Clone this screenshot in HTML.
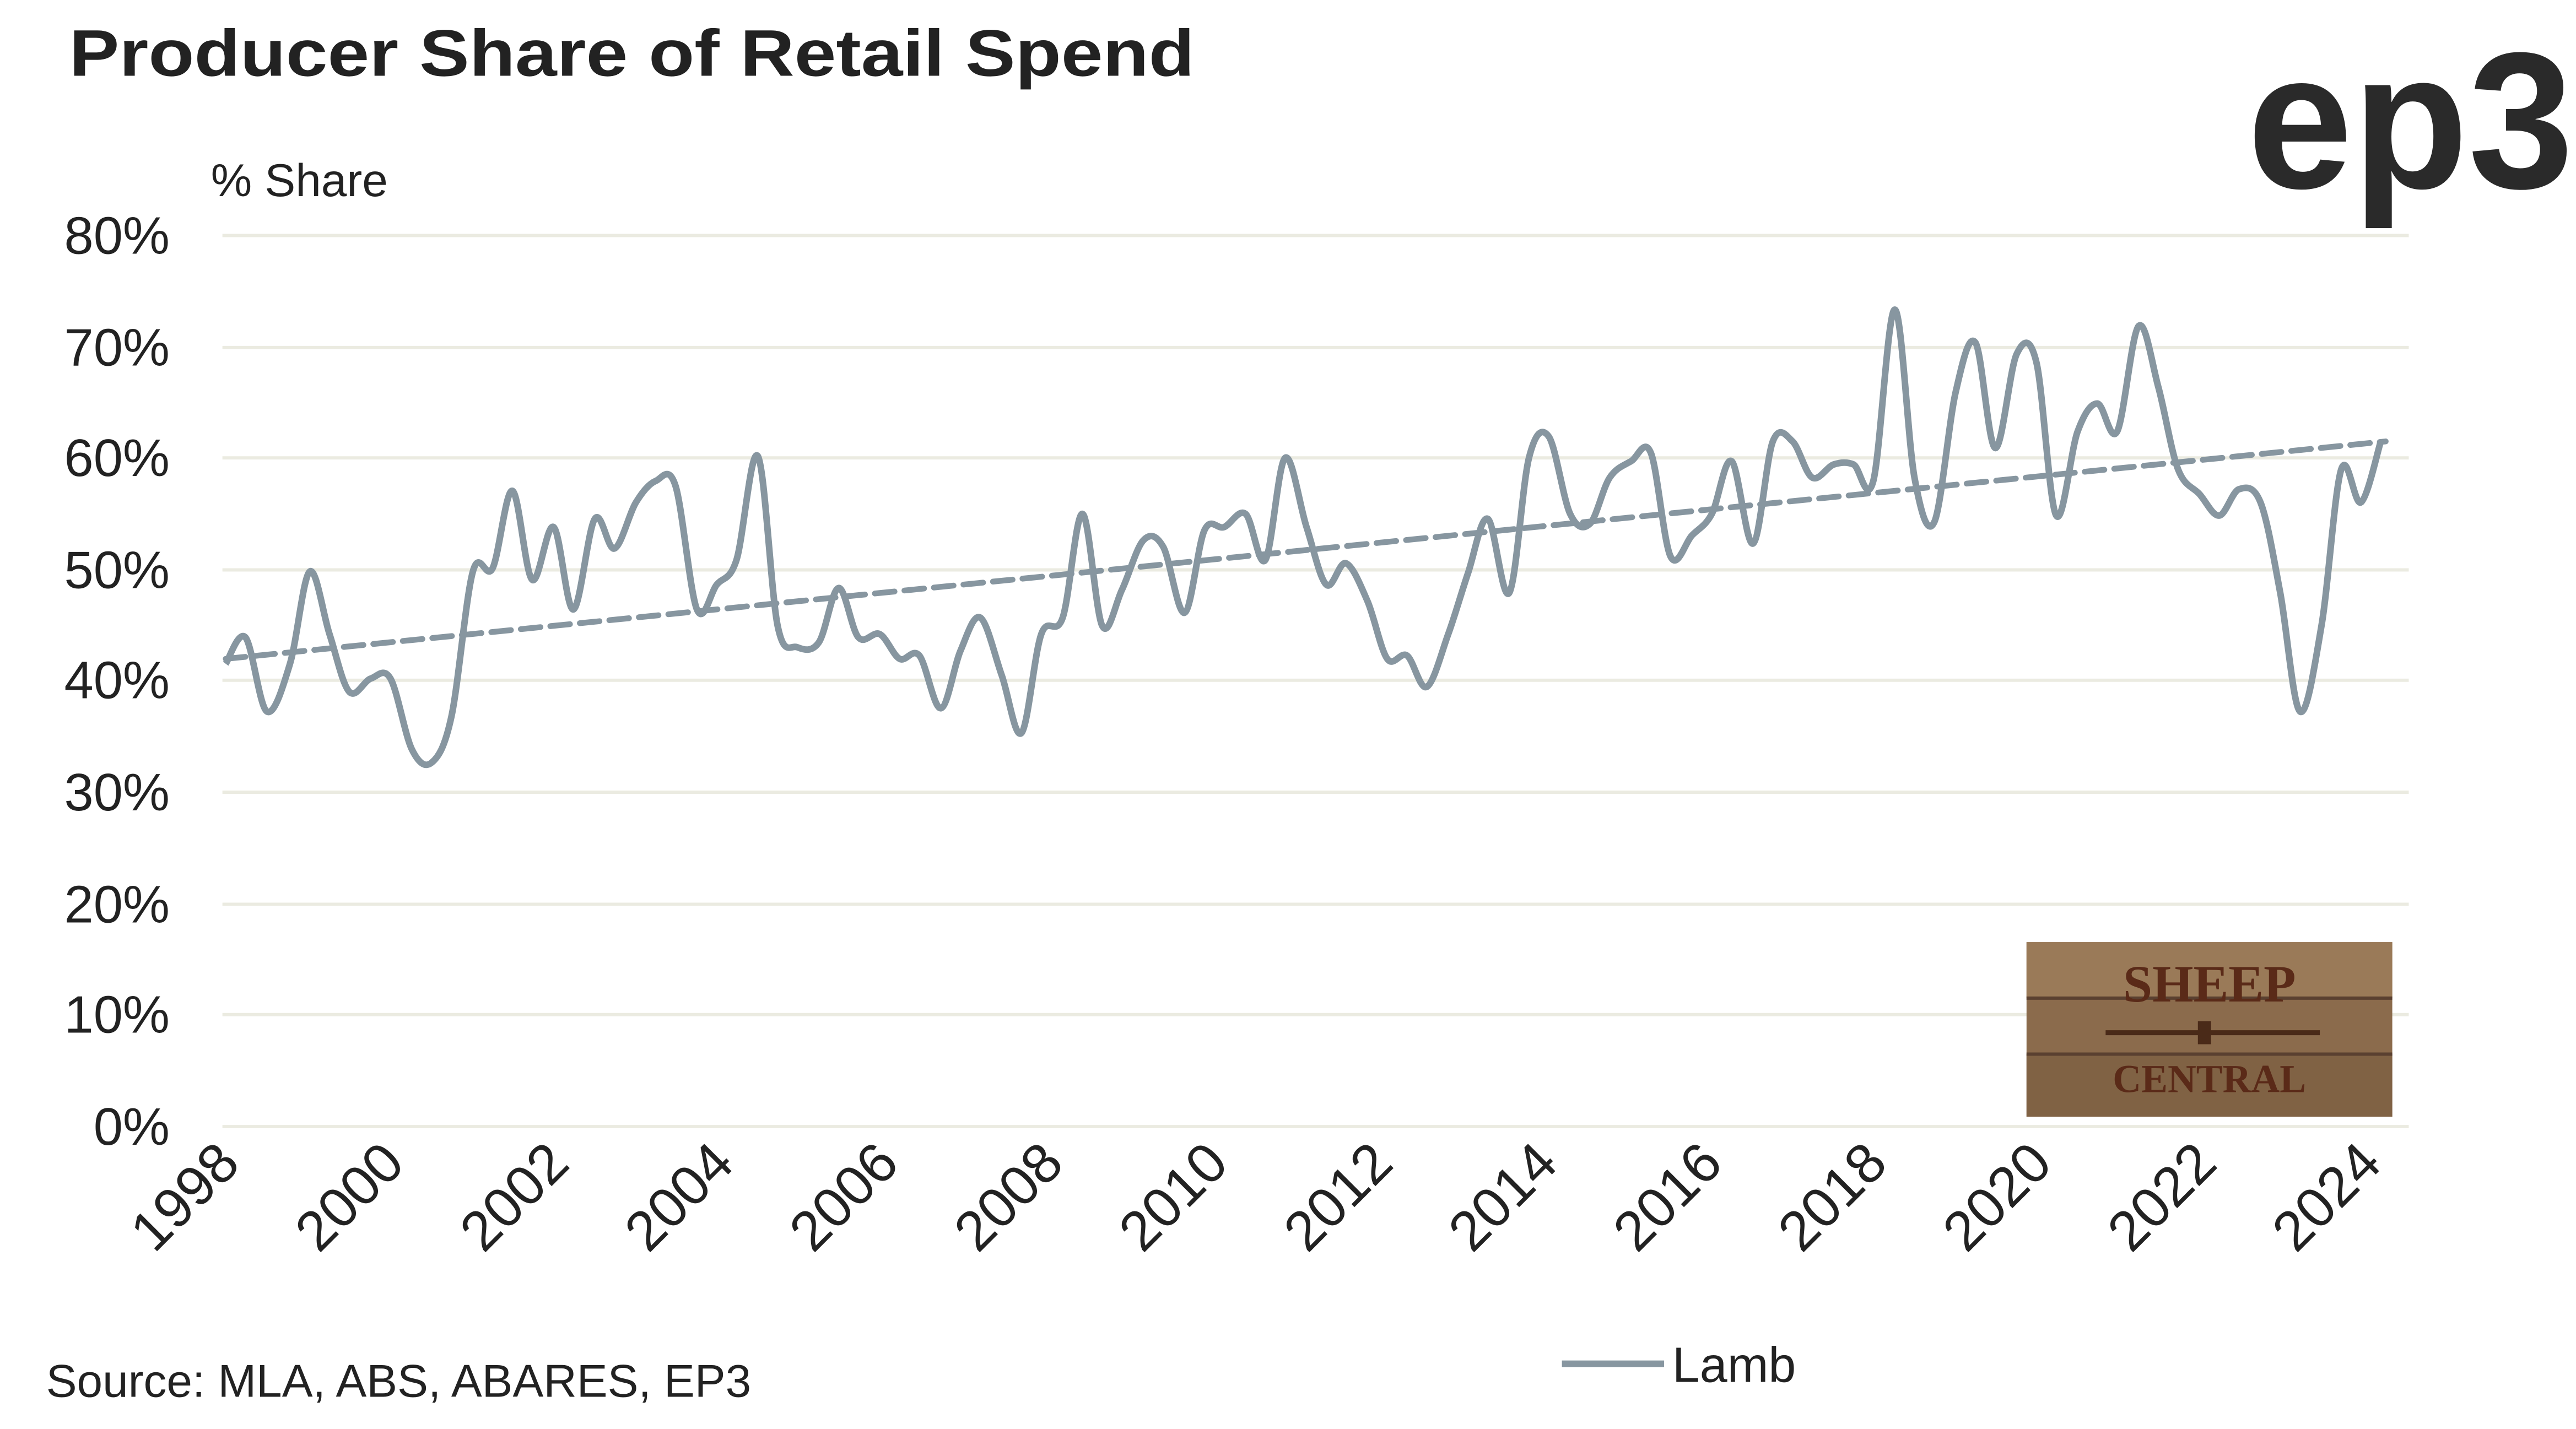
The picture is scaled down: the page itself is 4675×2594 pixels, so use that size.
<!DOCTYPE html>
<html><head><meta charset="utf-8">
<style>
html,body{margin:0;padding:0;background:#fff;}
svg{display:block;}
</style></head>
<body>
<svg id="s" width="4675" height="2594" viewBox="0 0 1563.5 867.6" preserveAspectRatio="none" xmlns="http://www.w3.org/2000/svg">
<rect width="1563.5" height="867.6" fill="#fff"/>
<text x="42" y="46" font-family="Liberation Sans, sans-serif" font-weight="bold" font-size="40" fill="#222" textLength="683" lengthAdjust="spacingAndGlyphs">Producer Share of Retail Spend</text>
<text x="1364" y="114" font-family="Liberation Sans, sans-serif" font-weight="bold" font-size="118" fill="#2a2a2a" textLength="198" lengthAdjust="spacingAndGlyphs">ep3</text>
<text x="128" y="119" font-family="Liberation Sans, sans-serif" font-size="28" fill="#222">% Share</text>
<g stroke="#ebebe1" stroke-width="2">
<line x1="135" x2="1462" y1="143" y2="143"/><line x1="135" x2="1462" y1="211" y2="211"/>
<line x1="135" x2="1462" y1="278" y2="278"/><line x1="135" x2="1462" y1="346" y2="346"/>
<line x1="135" x2="1462" y1="413" y2="413"/><line x1="135" x2="1462" y1="481" y2="481"/>
<line x1="135" x2="1462" y1="549" y2="549"/><line x1="135" x2="1462" y1="616" y2="616"/>
<line x1="135" x2="1462" y1="684" y2="684"/>
</g>
<g font-family="Liberation Sans, sans-serif" font-size="32" fill="#222" text-anchor="end">
<text x="103" y="154">80%</text><text x="103" y="222">70%</text><text x="103" y="289">60%</text>
<text x="103" y="357">50%</text><text x="103" y="424">40%</text><text x="103" y="492">30%</text>
<text x="103" y="560">20%</text><text x="103" y="627">10%</text><text x="103" y="695">0%</text>
</g>
<g id="xl" font-family="Liberation Sans, sans-serif" font-size="34" fill="#222" text-anchor="end"></g>
<g>
<rect x="1230" y="572" width="222" height="106" fill="#8b6b4c"/>
<rect x="1230" y="572" width="222" height="34" fill="#9a7a58"/>
<rect x="1230" y="640" width="222" height="38" fill="#806244"/>
<line x1="1230" y1="606" x2="1452" y2="606" stroke="#5a4030" stroke-width="2"/>
<line x1="1230" y1="640" x2="1452" y2="640" stroke="#5a4030" stroke-width="2"/>
<text x="1341" y="608" text-anchor="middle" font-family="Liberation Serif, serif" font-weight="bold" font-size="32" fill="#5a2a18">SHEEP</text>
<line x1="1278" y1="627" x2="1408" y2="627" stroke="#4a2a18" stroke-width="3"/>
<rect x="1334" y="620" width="8" height="14" fill="#4a2a18"/>
<text x="1341" y="663" text-anchor="middle" font-family="Liberation Serif, serif" font-weight="bold" font-size="24" fill="#5a2a18">CENTRAL</text>
</g>
<line x1="137" y1="400" x2="1448" y2="268" stroke="#8796a0" stroke-width="3.5" stroke-dasharray="12,6" stroke-linecap="round"/>
<path id="p" fill="none" stroke="#8796a0" stroke-width="4" stroke-linejoin="round"/>
<line x1="948" y1="828" x2="1010" y2="828" stroke="#8796a0" stroke-width="4"/>
<text x="1015" y="839" font-family="Liberation Sans, sans-serif" font-size="30" fill="#222">Lamb</text>
<text x="28" y="848" font-family="Liberation Sans, sans-serif" font-size="28" fill="#222">Source: MLA, ABS, ABARES, EP3</text>
</svg>
<script>
var d=[137,403,149,387,162,432,176,403,188,347,200,385,212,420,225,412,237,412,250,455,262,463,274,435,287,347,299,345,311,298,323,352,336,320,348,370,361,315,373,333,386,305,398,292,410,295,423,370,435,355,447,340,460,277,472,380,484,393,497,390,509,357,521,387,534,385,546,400,558,398,571,430,583,395,595,375,608,410,620,445,632,385,645,375,657,312,669,380,681,358,694,328,706,332,719,372,731,322,743,320,756,312,768,340,780,278,793,320,805,355,817,342,830,365,842,400,854,398,866,417,879,385,891,348,903,315,916,360,928,278,940,265,953,312,965,318,977,290,990,280,1002,275,1014,338,1027,325,1039,312,1051,280,1064,330,1076,268,1088,268,1100,290,1113,282,1125,282,1137,292,1150,188,1162,290,1174,317,1187,238,1199,208,1211,272,1224,215,1236,220,1248,313,1261,262,1273,245,1285,262,1298,198,1310,235,1322,285,1335,300,1347,313,1359,297,1372,305,1384,360,1396,432,1409,380,1421,285,1433,305,1445,268];
var P=[];for(var i=0;i<d.length;i+=2)P.push([d[i],d[i+1]]);
var s="M"+P[0][0]+","+P[0][1];
for(var i=0;i<P.length-1;i++){var p0=P[Math.max(0,i-1)],p1=P[i],p2=P[i+1],p3=P[Math.min(P.length-1,i+2)];
s+=" C"+(p1[0]+(p2[0]-p0[0])/6).toFixed(1)+","+(p1[1]+(p2[1]-p0[1])/6).toFixed(1)+" "+(p2[0]-(p3[0]-p1[0])/6).toFixed(1)+","+(p2[1]-(p3[1]-p1[1])/6).toFixed(1)+" "+p2[0]+","+p2[1];}
document.getElementById('p').setAttribute('d',s);
var g=document.getElementById('xl'),h="";
for(var k=0;k<14;k++){var x=147+k*100,y=708;h+='<text x="'+x+'" y="'+y+'" transform="rotate(-45 '+x+' '+y+')">'+(1998+2*k)+'</text>';}
g.innerHTML=h;
</script>
</body></html>
